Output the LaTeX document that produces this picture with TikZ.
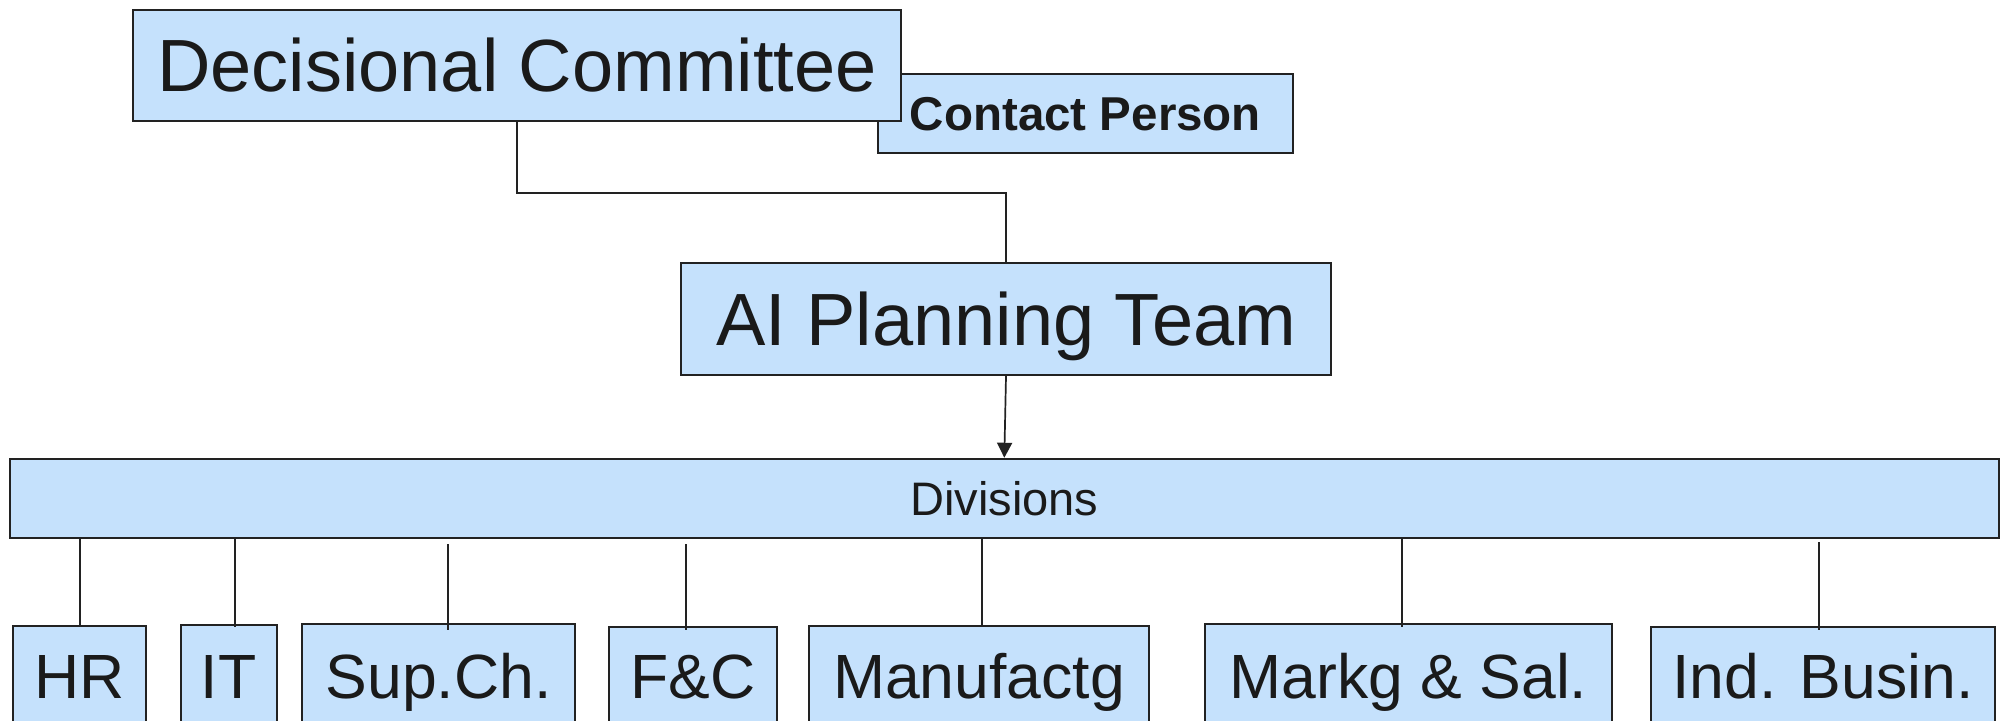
\documentclass[tikz,border=0pt]{standalone}
\usepackage{fontspec}
\setmainfont{Liberation Sans}
\usetikzlibrary{arrows.meta,calc}
\definecolor{boxfill}{RGB}{197,225,252}
\definecolor{lineclr}{RGB}{34,34,34}
\definecolor{txtclr}{RGB}{26,26,26}
\tikzset{
  orgbox/.style={draw=lineclr, line width=1pt, fill=boxfill, inner sep=0pt,
    text=txtclr, text depth=0pt},
  link/.style={draw=lineclr, line width=0.85pt},
}
\begin{document}
\begin{tikzpicture}[x=0.5pt,y=-0.5pt]
\clip (0,0) rectangle (2001,721);
\fill[white] (0,0) rectangle (2001,721);
% top
\node[orgbox, minimum width=207.5pt, minimum height=39.5pt, text height=17pt,
  font=\fontsize{23.75pt}{28pt}\selectfont\bfseries] (cp) at (1085.5,113.5) {Contact Person};
\node[orgbox, minimum width=384pt, minimum height=55.5pt, text height=26.5pt,
  font=\fontsize{37pt}{44pt}\selectfont] (dc) at (517,65.5) {Decisional Committee};
\node[orgbox, minimum width=325pt, minimum height=56pt, text height=26.5pt,
  font=\fontsize{37pt}{44pt}\selectfont] (ai) at (1006,319) {AI Planning Team};
\node[orgbox, minimum width=994.7pt, minimum height=39.75pt, text height=16.8pt,
  font=\fontsize{23.5pt}{28pt}\selectfont] (dv) at (1004.3,498.5) {Divisions};
% bottom row
\tikzset{bot/.style={orgbox, text height=22.4pt, font=\fontsize{31.25pt}{37pt}\selectfont}}
\node[bot, minimum width=66.5pt, minimum height=50pt] (hr) at (79.5,676) {HR};
\node[bot, minimum width=48.25pt, minimum height=51pt] (it) at (228.75,676) {IT};
\node[bot, minimum width=136.5pt, minimum height=52pt] (sc) at (438.5,676) {Sup.Ch.};
\node[bot, minimum width=84pt, minimum height=49pt] (fc) at (693,676) {F\&C};
\node[bot, minimum width=170pt, minimum height=50pt] (mf) at (979,676) {Manufactg};
\node[bot, minimum width=203.5pt, minimum height=52pt] (ms) at (1408.5,676) {Markg \& Sal.};
\node[bot, minimum width=172pt, minimum height=49pt] (ib) at (1823,676) {Ind. Busin.};
% connectors
\draw[link] (dc.south) -- ++(0,71) -| (ai.north);
\draw[link, -{Triangle[length=7.5pt,width=7.5pt]}] (ai.south) -- (dv.north);
\draw[link] ($(dv.south -| hr.north)+(0.5,0)$) -- ($(hr.north)+(0.5,2)$);
\draw[link] ($(dv.south -| it.north)+(6.25,0)$) -- ($(it.north)+(6.25,3)$);
\draw[link] ($(dv.south -| sc.north)+(9.5,5)$) -- ($(sc.north)+(9.5,7)$);
\draw[link] ($(dv.south -| fc.north)+(-7,5)$) -- ($(fc.north)+(-7,4)$);
\draw[link] ($(dv.south -| mf.north)+(3,0)$) -- ($(mf.north)+(3,1)$);
\draw[link] ($(dv.south -| ms.north)+(-6.5,0)$) -- ($(ms.north)+(-6.5,4)$);
\draw[link] ($(dv.south -| ib.north)+(-4,3)$) -- ($(ib.north)+(-4,4)$);
\end{tikzpicture}
\end{document}
